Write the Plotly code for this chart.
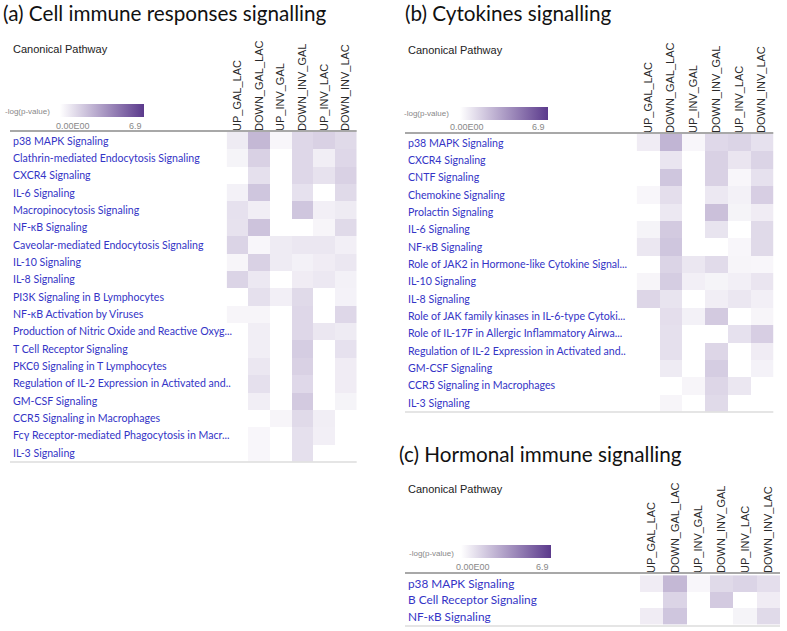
import plotly.graph_objects as go

W, H = 787, 631

columns = ["UP_GAL_LAC", "DOWN_GAL_LAC", "UP_INV_GAL", "DOWN_INV_GAL", "UP_INV_LAC", "DOWN_INV_LAC"]

pathways_a = [
    "p38 MAPK Signaling",
    "Clathrin-mediated Endocytosis Signaling",
    "CXCR4 Signaling",
    "IL-6 Signaling",
    "Macropinocytosis Signaling",
    "NF-κB Signaling",
    "Caveolar-mediated Endocytosis Signaling",
    "IL-10 Signaling",
    "IL-8 Signaling",
    "PI3K Signaling in B Lymphocytes",
    "NF-κB Activation by Viruses",
    "Production of Nitric Oxide and Reactive Oxyg...",
    "T Cell Receptor Signaling",
    "PKCθ Signaling in T Lymphocytes",
    "Regulation of IL-2 Expression in Activated and..",
    "GM-CSF Signaling",
    "CCR5 Signaling in Macrophages",
    "Fcγ Receptor-mediated Phagocytosis in Macr...",
    "IL-3 Signaling",
]
values_a = [
    [0.7, 2.5, 0.3, 1.4, 1.6, 1.3],
    [0.4, 1.6, 0.0, 1.4, 0.6, 1.4],
    [0.0, 1.1, 0.0, 1.4, 1.0, 1.6],
    [0.5, 2.0, 0.0, 1.05, 0.0, 1.3],
    [1.05, 0.6, 0.0, 2.0, 0.55, 0.7],
    [1.0, 2.1, 0.0, 0.0, 0.35, 1.3],
    [1.5, 0.3, 0.7, 0.85, 0.85, 0.55],
    [0.35, 1.6, 0.7, 0.5, 0.65, 0.85],
    [1.5, 0.8, 0.0, 0.65, 0.8, 0.5],
    [0.0, 1.1, 0.55, 1.3, 0.0, 0.45],
    [0.35, 0.35, 0.0, 1.4, 0.0, 1.4],
    [0.0, 0.6, 0.0, 1.4, 0.85, 0.7],
    [0.0, 0.6, 0.0, 1.75, 0.0, 1.05],
    [0.0, 0.85, 0.0, 1.6, 0.0, 0.65],
    [0.0, 1.1, 0.0, 1.35, 0.0, 0.65],
    [0.0, 0.6, 0.0, 1.85, 0.0, 0.4],
    [0.0, 0.0, 0.35, 1.3, 0.6, 0.0],
    [0.0, 0.3, 0.0, 1.1, 0.55, 0.0],
    [0.0, 0.3, 0.0, 1.1, 0.0, 0.0],
]

pathways_b = [
    "p38 MAPK Signaling",
    "CXCR4 Signaling",
    "CNTF Signaling",
    "Chemokine Signaling",
    "Prolactin Signaling",
    "IL-6 Signaling",
    "NF-κB Signaling",
    "Role of JAK2 in Hormone-like Cytokine Signal...",
    "IL-10 Signaling",
    "IL-8 Signaling",
    "Role of JAK family kinases in IL-6-type Cytoki...",
    "Role of IL-17F in Allergic Inflammatory Airwa...",
    "Regulation of IL-2 Expression in Activated and..",
    "GM-CSF Signaling",
    "CCR5 Signaling in Macrophages",
    "IL-3 Signaling",
]
values_b = [
    [0.65, 2.6, 0.3, 1.35, 1.5, 1.05],
    [0.0, 0.9, 0.0, 1.6, 0.9, 1.5],
    [0.0, 2.0, 0.0, 1.6, 0.3, 1.05],
    [0.3, 1.15, 0.0, 0.8, 0.5, 1.7],
    [0.0, 0.8, 0.0, 2.2, 0.4, 0.65],
    [0.4, 1.85, 0.0, 0.95, 0.0, 1.3],
    [0.85, 2.0, 0.0, 0.0, 0.3, 1.3],
    [0.0, 1.5, 0.85, 1.25, 0.35, 0.3],
    [0.35, 1.75, 0.55, 0.4, 0.55, 0.9],
    [1.45, 0.95, 0.0, 0.6, 0.85, 0.55],
    [0.0, 1.15, 0.5, 1.85, 0.0, 0.35],
    [0.0, 1.1, 0.0, 0.0, 1.05, 1.7],
    [0.0, 1.1, 0.0, 1.45, 0.0, 0.65],
    [0.0, 0.7, 0.0, 1.75, 0.0, 0.45],
    [0.0, 0.0, 0.35, 1.45, 0.85, 0.0],
    [0.0, 0.35, 0.0, 1.3, 0.0, 0.0],
]

pathways_c = [
    "p38 MAPK Signaling",
    "B Cell Receptor Signaling",
    "NF-κB Signaling",
]
values_c = [
    [0.65, 2.5, 0.3, 1.3, 1.5, 1.15],
    [0.0, 1.5, 0.0, 1.85, 0.0, 0.65],
    [0.65, 2.0, 0.0, 0.0, 0.4, 1.3],
]

titles = ["(a) Cell immune responses signalling", "(b) Cytokines signalling", "(c) Hormonal immune signalling"]
scale_min_label = "0.00E00"
scale_max_label = "6.9"
scale_max = 6.9

colorscale = [[0.0, "#ffffff"], [1.0, "#5b3a8c"]]


def px(x):
    return x / W


def py(y):
    return 1 - y / H


# panel geometry in pixels
panels = [
    dict(rows=pathways_a, vals=values_a, x0=226.7, x1=356.7, y0=132, y1=461.5,
         label_x=10.5, line_x0=10, label_size=10.6,
         title=(1, 13), cp=(11, 49), leg_text=(3, 111), bar=(60, 144.3, 104, 117.3),
         lo=(73, 126), hi=(144.3, 126)),
    dict(rows=pathways_b, vals=values_b, x0=636.7, x1=773.3, y0=134, y1=411.5,
         label_x=405.5, line_x0=405, label_size=10.6,
         title=(403, 13), cp=(406, 50), leg_text=(401.7, 113), bar=(460, 548.3, 106.7, 119.3),
         lo=(467, 127), hi=(546.7, 127)),
    dict(rows=pathways_c, vals=values_c, x0=640, x1=780, y0=574, y1=625.5,
         label_x=405.5, line_x0=405, label_size=11.8,
         title=(397, 454), cp=(406, 489), leg_text=(406.7, 553), bar=(461, 550.7, 545, 558.3),
         lo=(473, 567), hi=(550.7, 567)),
]

fig = go.Figure()
annotations = []
shapes = []

for i, p in enumerate(panels):
    sfx = "" if i == 0 else str(i + 1)
    fig.add_trace(go.Heatmap(
        z=p["vals"], x=columns, y=p["rows"],
        xaxis="x" + sfx, yaxis="y" + sfx,
        colorscale=colorscale, zmin=0, zmax=scale_max,
        showscale=True,
        colorbar=dict(
            orientation="h", lenmode="pixels", len=p["bar"][1] - p["bar"][0],
            thicknessmode="pixels", thickness=p["bar"][3] - p["bar"][2],
            x=px(p["bar"][0]), xanchor="left", y=py(p["bar"][2]), yanchor="top",
            xpad=0, ypad=0, outlinewidth=0, showticklabels=False, ticks="",
        ),
        hoverongaps=False,
    ))
    fig.update_layout(**{
        "xaxis" + sfx: dict(
            domain=[px(p["x0"]), px(p["x1"])], anchor="y" + sfx, side="top",
            tickangle=-90, showgrid=False, zeroline=False, showline=False, ticks="",
            tickfont=dict(family="Liberation Sans, Arial", size=11, color="#2a2a2a"),
            fixedrange=True,
        ),
        "yaxis" + sfx: dict(
            domain=[py(p["y1"]), py(p["y0"])], anchor="x" + sfx,
            autorange="reversed", showticklabels=False, showgrid=False,
            zeroline=False, showline=False, ticks="", fixedrange=True,
        ),
    })
    # row labels
    for r in p["rows"]:
        annotations.append(dict(
            text=r, x=px(p["label_x"]), xref="paper", y=r, yref="y" + sfx,
            xanchor="left", yanchor="middle", showarrow=False,
            font=dict(family="Lato", size=p["label_size"], color="#3434c6"),
        ))
    # title
    annotations.append(dict(
        text=titles[i], x=px(p["title"][0]), y=py(p["title"][1]), xref="paper", yref="paper",
        xanchor="left", yanchor="middle", showarrow=False,
        font=dict(family="Lato", size=20.7, color="#111111"),
    ))
    annotations.append(dict(
        text="Canonical Pathway", x=px(p["cp"][0]), y=py(p["cp"][1]), xref="paper", yref="paper",
        xanchor="left", yanchor="middle", showarrow=False,
        font=dict(family="Liberation Sans, Arial", size=11, color="#222222"),
    ))
    annotations.append(dict(
        text="-log(p-value)", x=px(p["leg_text"][0]), y=py(p["leg_text"][1]), xref="paper", yref="paper",
        xanchor="left", yanchor="middle", showarrow=False,
        font=dict(family="Liberation Sans, Arial", size=8, color="#888888"),
    ))
    annotations.append(dict(
        text=scale_min_label, x=px(p["lo"][0]), y=py(p["lo"][1]), xref="paper", yref="paper",
        xanchor="center", yanchor="middle", showarrow=False,
        font=dict(family="Liberation Sans, Arial", size=9, color="#888888"),
    ))
    annotations.append(dict(
        text=scale_max_label, x=px(p["hi"][0]), y=py(p["hi"][1]), xref="paper", yref="paper",
        xanchor="right", yanchor="middle", showarrow=False,
        font=dict(family="Liberation Sans, Arial", size=9, color="#888888"),
    ))
    # separator lines
    shapes.append(dict(type="line", xref="paper", yref="paper",
                       x0=px(p["line_x0"]), x1=px(p["x1"]), y0=py(p["y0"] - 1), y1=py(p["y0"] - 1),
                       line=dict(color="#a8a8a8", width=2)))
    shapes.append(dict(type="line", xref="paper", yref="paper",
                       x0=px(p["line_x0"]), x1=px(p["x1"]), y0=py(p["y1"] + 0.5), y1=py(p["y1"] + 0.5),
                       line=dict(color="#dcdcdc", width=1.5)))

fig.update_layout(
    width=W, height=H,
    margin=dict(l=0, r=0, t=0, b=0),
    paper_bgcolor="white", plot_bgcolor="white",
    annotations=annotations, shapes=shapes,
    showlegend=False,
)

fig.write_html("out.html", config={"displayModeBar": False},
               post_script="document.body.style.margin='0';")
